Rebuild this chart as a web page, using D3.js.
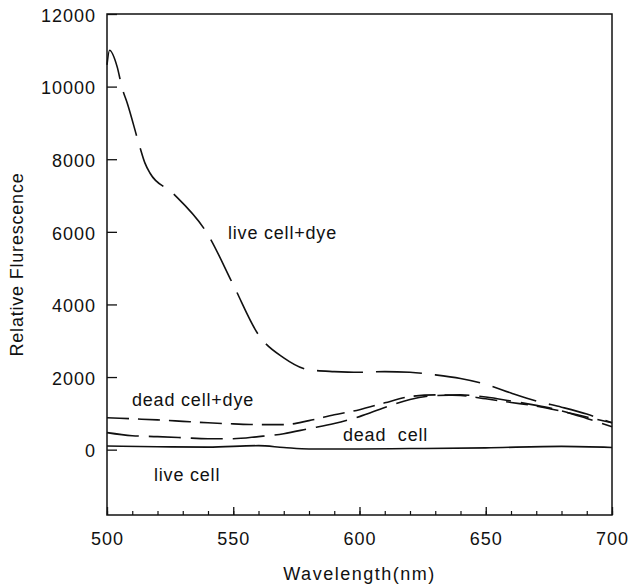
<!DOCTYPE html>
<html>
<head>
<meta charset="utf-8">
<script src="https://cdn.jsdelivr.net/npm/d3@7/dist/d3.min.js"></script>
<style>
  body { margin: 0; background: #fff; }
  text { font-family: "Liberation Sans", Arial, sans-serif; fill: #111; }
</style>
</head>
<body>
<script>
// wavelength (nm) and relative fluorescence for each curve
var liveDyeX = [500, 501, 504, 506, 508, 513, 515, 517, 526, 540, 550, 560, 570, 580, 590, 600, 610, 620, 630, 640, 650, 660, 670, 680, 690, 700];
var liveDyeY = [10600, 11000, 10550, 9960, 9550, 8340, 7900, 7620, 7070, 5920, 4540, 3165, 2530, 2200, 2150, 2130, 2150, 2130, 2060, 1960, 1800, 1560, 1340, 1170, 980, 740];

var deadDyeX = [500, 510, 520, 530, 540, 550, 560, 570, 580, 590, 600, 610, 620, 630, 640, 650, 660, 670, 680, 690, 700];
var deadDyeY = [880, 850, 820, 780, 740, 710, 690, 690, 800, 960, 1100, 1290, 1460, 1510, 1490, 1400, 1300, 1200, 1060, 900, 740];

var deadX = [500, 510, 520, 530, 540, 550, 560, 570, 580, 590, 600, 610, 620, 630, 640, 650, 660, 670, 680, 690, 700];
var deadY = [470, 385, 360, 330, 300, 300, 360, 440, 580, 720, 910, 1160, 1380, 1490, 1510, 1450, 1340, 1220, 1070, 860, 630];

var liveX = [500, 520, 540, 560, 570, 580, 600, 620, 650, 680, 700];
var liveY = [100, 80, 70, 110, 60, 20, 20, 30, 50, 90, 60];

var yTicks = [0, 2000, 4000, 6000, 8000, 10000, 12000];
var xTicks = [500, 550, 600, 650, 700];

var width = 631, height = 588;
var plotL = 107, plotR = 612, plotT = 14, plotB = 515;

var svg = d3.select("body").append("svg")
    .attr("width", width)
    .attr("height", height);

var x = d3.scaleLinear().domain([500, 700]).range([plotL, plotR]);
var y = d3.scaleLinear().domain([-1800, 12000]).range([plotB, plotT]);

// frame
svg.append("rect")
    .attr("x", plotL).attr("y", plotT)
    .attr("width", plotR - plotL).attr("height", plotB - plotT)
    .attr("fill", "none").attr("stroke", "#111").attr("stroke-width", 1.5);

// y axis, ticks pointing inwards
var yAxis = svg.append("g")
    .attr("transform", "translate(" + plotL + ",0)")
    .call(d3.axisLeft(y).tickValues(yTicks).tickFormat(d3.format("d"))
      .tickSizeInner(-10).tickSizeOuter(0).tickPadding(11));
yAxis.select(".domain").remove();
yAxis.selectAll("line").attr("stroke", "#111").attr("stroke-width", 1.3);
yAxis.selectAll("text")
    .attr("font-size", 18).attr("letter-spacing", 1).attr("dy", "0.4em")
    .attr("font-family", "Liberation Sans, Arial, sans-serif");

// x axis: minor ticks every 10 nm, labelled ticks every 50 nm
var xMinor = svg.append("g")
    .attr("transform", "translate(0," + plotB + ")")
    .call(d3.axisBottom(x).tickValues(d3.range(500, 701, 10)).tickSizeInner(-4).tickSizeOuter(0).tickFormat(""));
xMinor.select(".domain").remove();
xMinor.selectAll("line").attr("stroke", "#111").attr("stroke-width", 1.2);

var xAxis = svg.append("g")
    .attr("transform", "translate(0," + plotB + ")")
    .call(d3.axisBottom(x).tickValues(xTicks).tickFormat(d3.format("d"))
      .tickSizeInner(-8).tickSizeOuter(0).tickPadding(17));
xAxis.select(".domain").remove();
xAxis.selectAll("line").attr("stroke", "#111").attr("stroke-width", 1.3);
xAxis.selectAll("text")
    .attr("font-size", 18).attr("letter-spacing", 1)
    .attr("font-family", "Liberation Sans, Arial, sans-serif");

// curves
var line = d3.line()
    .x(function(d) { return x(d[0]); })
    .y(function(d) { return y(d[1]); })
    .curve(d3.curveMonotoneX);

var series = [
  { xs: liveDyeX, ys: liveDyeY, dash: "46,13" },
  { xs: deadDyeX, ys: deadDyeY, dash: "22,9" },
  { xs: deadX, ys: deadY, dash: "32,10" },
  { xs: liveX, ys: liveY, dash: null }
];

series.forEach(function(s) {
  var pts = s.xs.map(function(v, i) { return [v, s.ys[i]]; });
  svg.append("path")
      .datum(pts)
      .attr("d", line)
      .attr("fill", "none")
      .attr("stroke", "#111")
      .attr("stroke-width", 1.6)
      .attr("stroke-dasharray", s.dash);
});

// curve labels
var labels = [
  { t: "live cell+dye", x: 228, y: 239 },
  { t: "dead cell+dye", x: 132, y: 406 },
  { t: "dead  cell", x: 343, y: 441 },
  { t: "live cell", x: 154, y: 481 }
];
svg.selectAll(".lbl")
  .data(labels)
  .enter().append("text")
    .attr("class", "lbl")
    .attr("x", function(d) { return d.x; })
    .attr("y", function(d) { return d.y; })
    .attr("font-size", 18)
    .attr("letter-spacing", 0.8)
    .style("white-space", "pre")
    .text(function(d) { return d.t; });

// axis titles
svg.append("text")
    .attr("x", (plotL + plotR) / 2)
    .attr("y", 580)
    .attr("text-anchor", "middle")
    .attr("font-size", 18)
    .attr("letter-spacing", 1.5)
    .text("Wavelength(nm)");

svg.append("text")
    .attr("transform", "translate(23," + (plotT + plotB) / 2 + ") rotate(-90)")
    .attr("text-anchor", "middle")
    .attr("font-size", 18)
    .attr("letter-spacing", 0.8)
    .text("Relative Flurescence");
</script>
</body>
</html>
